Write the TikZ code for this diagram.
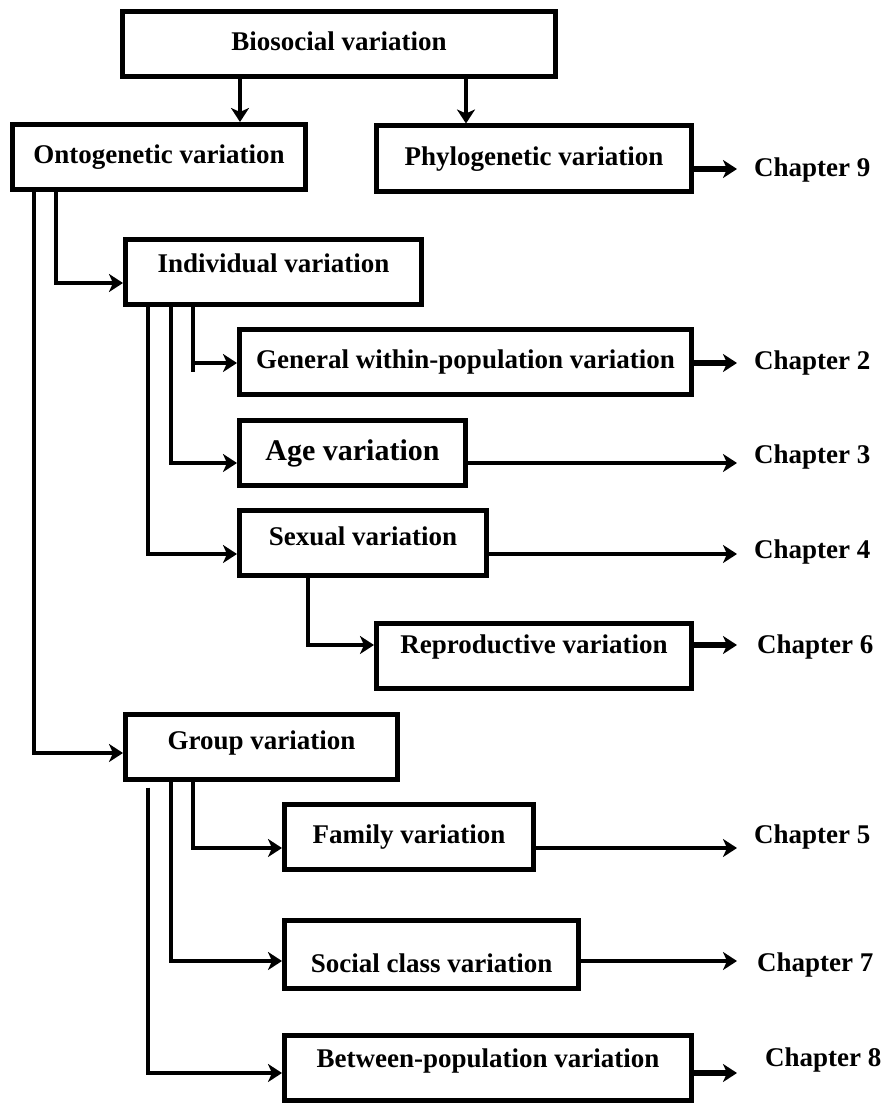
\documentclass[tikz,border=0pt]{standalone}
\usepackage{fontspec}
\setmainfont{Liberation Serif}
\usetikzlibrary{arrows.meta}

\begin{document}
\begin{tikzpicture}[
  x=1pt,y=-1pt,
  font=\fontsize{27}{32}\selectfont\bfseries,
  box/.style={draw,line width=5pt,minimum height=65pt,inner sep=0pt,text height=19pt,text depth=6pt},
  chap/.style={anchor=west,inner xsep=17pt,inner ysep=0pt},
  conn/.style={line width=4.6pt,-{Stealth[length=14pt,width=18pt,inset=4pt]}},
  chout/.style={conn,line width=6.5pt},
]
  \useasboundingbox (0,0) rectangle (881,1105);

  \node[box,minimum width=433pt] (bio) at (339,44) {Biosocial variation};
  \node[box,minimum width=293pt] (onto) at (159,157) {Ontogenetic variation};
  \node[box,minimum width=315pt] (phylo) at (534,158.5) {Phylogenetic variation};

  \node[box,minimum width=296pt,text depth=18pt] (indiv) at (273.5,271.5) {Individual variation};
  \node[box,minimum width=452pt] (gen) at (465.5,362) {General within-population variation};
  \node[box,minimum width=226pt,font=\fontsize{30}{36}\selectfont\bfseries,text height=21pt] (age) at (352.5,452.5) {Age variation};
  \node[box,minimum width=247pt,text depth=14pt] (sex) at (363,542.5) {Sexual variation};
  \node[box,minimum width=315pt,text depth=24pt] (repro) at (534,656) {Reproductive variation};

  \node[box,minimum width=272pt,text depth=14pt] (group) at (261.5,746.5) {Group variation};
  \node[box,minimum width=249pt] (family) at (409,837) {Family variation};
  \node[box,minimum width=294pt,minimum height=68pt,text height=41pt] (social) at (431.5,954.5) {Social class variation};
  \node[box,minimum width=407pt,text depth=20pt] (between) at (488,1067.5) {Between-population variation};

  % chapters
  \node[chap] (ch9) at (737,170) {Chapter 9};
  \node[chap] (ch2) at (737,363) {Chapter 2};
  \node[chap] (ch3) at (737,457) {Chapter 3};
  \node[chap] (ch4) at (737,552) {Chapter 4};
  \node[chap,inner xsep=20pt] (ch6) at (737,647) {Chapter 6};
  \node[chap] (ch5) at (737,837) {Chapter 5};
  \node[chap,inner xsep=20pt] (ch7) at (737,965) {Chapter 7};
  \node[chap,inner xsep=28pt] (ch8) at (737,1060) {Chapter 8};

  \draw[conn] (bio.south -| 240,0) -- (onto.north -| 240,0);
  \draw[conn] (bio.south -| 466,0) -- (phylo.north -| 466,0);
  \draw[conn] (onto.south -| 56,0) |- (indiv.west |- 0,283);
  \draw[conn] (onto.south -| 34,0) |- (group.west |- 0,753);

  \foreach \x/\t/\y in {193/gen/363, 171/age/463, 148/sex/554}
    \draw[conn] (indiv.south -| \x,0) |- (\t.west |- 0,\y);
  \draw[line width=4.6pt] (193,363) -- (193,372);
  \draw[conn] (sex.south -| 308,0) |- (repro.west |- 0,645);

  \foreach \x/\t/\y in {193/family/848, 171/social/961}
    \draw[conn] (group.south -| \x,0) |- (\t.west |- 0,\y);
  \draw[conn] ([yshift=-6pt]group.south -| 148,0) |- (between.west |- 0,1073);

  \foreach \b/\c/\y in {phylo/ch9/169, gen/ch2/363, repro/ch6/645, between/ch8/1073}
    \draw[chout] (\b.east |- 0,\y) -- (\c.west |- 0,\y);
  \foreach \b/\c/\y in {age/ch3/463, sex/ch4/554, family/ch5/848, social/ch7/961}
    \draw[conn] (\b.east |- 0,\y) -- (\c.west |- 0,\y);
\end{tikzpicture}
\end{document}
